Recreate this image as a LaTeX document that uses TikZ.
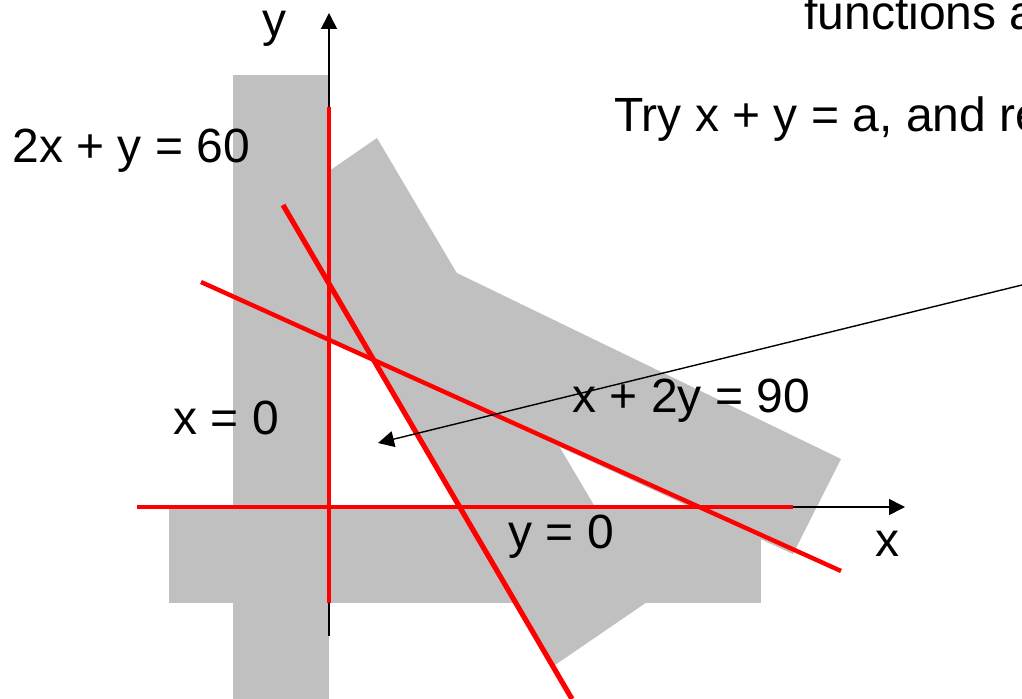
\documentclass[tikz,border=0pt]{standalone}
\usepackage{fontspec}
\setmainfont{Liberation Sans}
\usetikzlibrary{arrows.meta}
\definecolor{stripgray}{RGB}{192,192,192}
\definecolor{boundred}{RGB}{255,0,0}

\begin{document}
\begin{tikzpicture}[
    x=0.5pt, y=-0.5pt,
    strip/.style={fill=stripgray, draw=none},
    axis/.style={-{Triangle[length=8pt, width=8pt]}, line width=0.8pt},
    pointer/.style={-{Triangle[length=8pt, width=8pt]}, line width=0.7pt},
    bound/.style={draw=boundred, line width=#1},
    bound/.default=2.2pt,
    eqn/.style={anchor=base west, inner sep=0pt, font=\fontsize{24}{28}\selectfont}
]
\useasboundingbox (0,0) rectangle (1022,699);
\clip (0,0) rectangle (1022,699);

% Shaded strips
\fill[strip] (233,75) rectangle (329,705);
\fill[strip] (169,507) rectangle (761,603);
\fill[strip] (377,138) -- (650,600) -- (555,665) -- (284,202) -- cycle;
\fill[strip] (300,197) -- (841,459) -- (793,554) -- (300,328) -- cycle;

% Axes
\draw[axis] (137,507) -- (905,507);
\draw[axis] (329,636) -- (329,13);

% Constraint lines
\draw[bound] (329,107) -- (329,603);
\draw[bound] (137,507) -- (793,507);
\draw[bound=2.6pt] (283,205) -- (572,699);
\draw[bound] (201,282) -- (841,571);

% Pointer
\coordinate (ptrfrom) at (1022,285);
\coordinate (ptrto) at (378,443);
\draw[pointer] (ptrfrom) -- (ptrto);

% Labels
\node[eqn] (ylab) at (262,37) {y};
\node[eqn] (xlab) at (875,556) {x};
\node[eqn] (eqa) at (12,163) {2x + y = 60};
\node[eqn] (eqb) at (173,435) {x = 0};
\node[eqn] (eqc) at (508,548) {y = 0};
\node[eqn] (eqd) at (572,413) {x + 2y = 90};
\node[eqn] (note1) at (804,30) {functions a};
\node[eqn] (note2) at (614,132) {Try x + y = a, and re};
\end{tikzpicture}
\end{document}
